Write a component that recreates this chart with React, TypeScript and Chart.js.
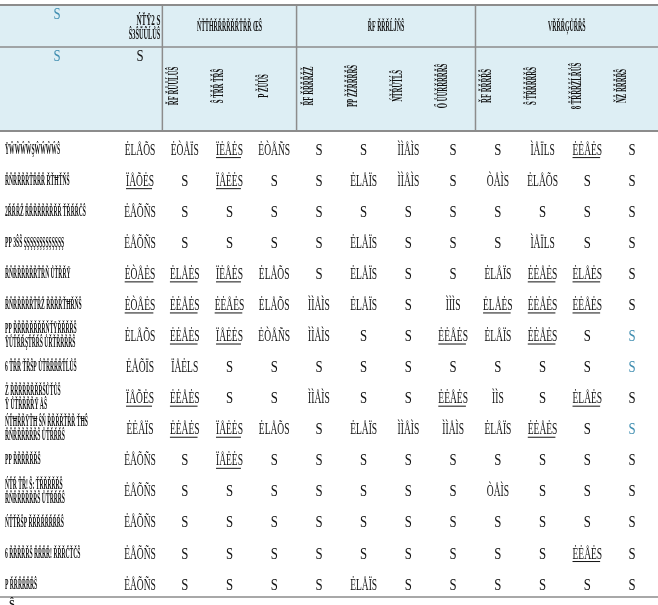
import { useEffect, useRef } from "react";
import { Chart, registerables } from "chart.js";
Chart.register(...registerables);

// ---- table content (garbled glyph text as shown in the reference) ----
const cornerTitle = ["ŃŤŸ2 S", "Ŝ3ŜŨŨĹŮŜ"];
const groupTitles = ["ŃŤŤĤŘŘŘŘŘŘŤŘŘ ŒŜ", "ŘF ŘŘŘĹĴŇŜ", "VŘŘŘĢŮŘŘŜ"];
const groupSpans = [3, 4, 4];
const columnTitles = [
  "ŘF ŘŮŮĹŮŜ",
  "Ŝ ŤŘŘ ŤŘŜ",
  "P ŽŮŮŜ",
  "ŘF ŘŘŘŘŽŽ",
  "PP ŽŽŘŘŘŘŜ",
  "ŃŤŘŮŤĹŜ",
  "Ő ŮŮŘŘŘŘŘŜ",
  "ŘF ŘŘŘŘŜ",
  "Ŝ ŤŘŘŘŘŘŜ",
  "8 ŤŘŘŘŽĹŘŮŜ",
  "ŇŽ ŘŘŘŘŜ",
];
const rowLabels: string[][] = [
  ["ŸŴŴŴŴŞŴŴŴŴŜ"],
  ["ŘŇŘŘŘŘŤŘŘŘ ŘŤĦŤŇŜ"],
  ["2ŘŘŘŽ ŘŘŘŘŘŘŘŘŘ ŤŘŘŘČŜ"],
  ["PP 3ŜŜ ŞŞŞŞŞŞŞŞŞŞŞŞŞ"],
  ["ŘŇŘŘŘŘŘŘŤŘŇ ŮŤŘŘŸ"],
  ["ŘŇŘŘŘŘŘŤŘŽ ŘŘŘŘŤĦŘŇŜ"],
  ["PP ŘŘŘŘŘŘŘŘŇŤŸŘŘŘŘŜ", "ŸŮŤŘŘŞŤŘŘŜ ŮŘŤŘŘŘŘŜ"],
  ["6 ŤŘŘ ŤŘŜP ŮŤŘŘŘŘŤĹŮŜ"],
  ["Ż ŘŘŘŘŘŘŘŘŜŮŤŮŜ", "Ÿ ŮŤŘŘŘŘŸ ÅŜ"],
  ["ŃŤĦŘŘŸŤĦ ŜŇ ŘŘŘŘŤŘŘ ŤĦŜ", "ŘŇŘŘŘŘŘŘŜ ŮŤŘŘŘŜ"],
  ["PP ŘŘŘŘŘŘŜ"],
  ["ŃŤŘ ŤŘ! Ŝ: ŤŘŘŘŘŘŜ", "ŘŇŘŘŘŘŘŘŜ ŮŤŘŘŘŜ"],
  ["ŃŤŤŘŜP ŘŘŘŘŘŘŘŘŜ"],
  ["6 ŘŘŘŘŘŜ ŘŘŘŘ! ŘŘŘČŤČŜ"],
  ["P ŘŘŘŘŘŘŜ"],
];

const colTotal = ["ĖLÅÕS", "ÏÅÕĖS", "ĖÅÕÑS", "ĖÅÕÑS", "ĖÒÅĖS", "ĖÒÅĖS", "ĖLÅÕS", "ĖÅÕÏS", "ÏÅÕĖS", "ĖĖÅÏS", "ĖÅÕÑS", "ĖÅÕÑS", "ĖÅÕÑS", "ĖÅÕÑS", "ĖÅÕÑS"];
const colG1a = ["ĖÒÅÏS", "S", "S", "S", "ĖLÅĖS", "ĖĖÅĖS", "ĖĖÅĖS", "ÏÅĖLS", "ĖĖÅĖS", "ĖĖÅĖS", "S", "S", "S", "S", "S"];
const colG1b = ["ÏĖÅĖS", "ÏÅĖĖS", "S", "S", "ÏĖÅĖS", "ĖĖÅĖS", "ÏÅĖĖS", "S", "S", "ÏÅĖĖS", "ÏÅĖĖS", "S", "S", "S", "S"];
const colG1c = ["ĖÒÅÑS", "S", "S", "S", "ĖLÅÕS", "ĖLÅÕS", "ĖÒÅÑS", "S", "S", "ĖLÅÕS", "S", "S", "S", "S", "S"];
const colG2a = ["S", "S", "S", "S", "S", "ÌÌÅÌS", "ÌÌÅÌS", "S", "ÌÌÅÌS", "S", "S", "S", "S", "S", "S"];
const colG2b = ["S", "ĖLÅÏS", "S", "ĖLÅÏS", "ĖLÅÏS", "ĖLÅÏS", "S", "S", "S", "ĖLÅÏS", "S", "S", "S", "S", "ĖLÅÏS"];
const colG2c = ["ÌÌÅÌS", "ÌÌÅÌS", "S", "S", "S", "S", "S", "S", "S", "ÌÌÅÌS", "S", "S", "S", "S", "S"];
const colG2d = ["S", "S", "S", "S", "S", "ÌÌÌS", "ĖĖÅĖS", "S", "ĖĖÅĖS", "ÌÌÅÌS", "S", "S", "S", "S", "S"];
const colG3a = ["S", "ÒÅÌS", "S", "S", "ĖLÅÏS", "ĖLÅĖS", "ĖLÅÏS", "S", "ÌÌS", "ĖLÅÏS", "S", "ÒÅÌS", "S", "S", "S"];
const colG3b = ["ÌÅÏLS", "ĖLÅÕS", "S", "ÌÅÏLS", "ĖĖÅĖS", "ĖĖÅĖS", "ĖĖÅĖS", "S", "S", "ĖĖÅĖS", "S", "S", "S", "S", "S"];
const colG3c = ["ĖĖÅĖS", "S", "S", "S", "ĖLÅĖS", "ĖĖÅĖS", "S", "S", "ĖLÅĖS", "S", "S", "S", "S", "ĖĖÅĖS", "S"];
const colG3d = ["S", "S", "S", "S", "S", "S", "S", "S", "S", "S", "S", "S", "S", "S", "S"];
const flaggedRows = [6, 7, 9];

const columns = [colTotal, colG1a, colG1b, colG1c, colG2a, colG2b, colG2c, colG2d, colG3a, colG3b, colG3c, colG3d];

const INK = "#111111";
const TEAL = "#3f8db0";
const HEAD_BG = "#ddeef4";
const RULE = "#8c8c8c";

function drawText(
  ctx: CanvasRenderingContext2D,
  text: string,
  x: number,
  y: number,
  font: string,
  sx: number,
  align: "left" | "center" | "right",
  color: string,
  underline = false
) {
  ctx.save();
  ctx.font = font;
  ctx.fillStyle = color;
  ctx.textBaseline = "middle";
  const w = ctx.measureText(text).width * sx;
  let left = x;
  if (align === "center") left = x - w / 2;
  if (align === "right") left = x - w;
  ctx.translate(left, y);
  ctx.scale(sx, 1);
  ctx.textAlign = "left";
  ctx.fillText(text, 0, 0);
  ctx.restore();
  if (underline) {
    ctx.save();
    ctx.strokeStyle = color;
    ctx.lineWidth = 1;
    ctx.beginPath();
    ctx.moveTo(left, y + 7.5);
    ctx.lineTo(left + w - 2, y + 7.5);
    ctx.stroke();
    ctx.restore();
  }
}

const tablePlugin = {
  id: "tablePlugin",
  beforeDatasetsDraw(chart: any) {
    const ctx: CanvasRenderingContext2D = chart.ctx;
    const xs = chart.scales.x;
    const W = chart.width;
    ctx.save();
    ctx.fillStyle = "#ffffff";
    ctx.fillRect(0, 0, W, chart.height);
    ctx.fillStyle = HEAD_BG;
    ctx.fillRect(0, 5, W, 126);
    ctx.strokeStyle = RULE;
    ctx.lineWidth = 2;
    ctx.beginPath();
    ctx.moveTo(0, 5);
    ctx.lineTo(W, 5);
    ctx.moveTo(0, 131);
    ctx.lineTo(W, 131);
    ctx.stroke();
    ctx.lineWidth = 1.5;
    ctx.beginPath();
    ctx.moveTo(0, 47);
    ctx.lineTo(W, 47);
    ctx.moveTo(0, 597);
    ctx.lineTo(W, 597);
    ctx.stroke();
    let c = 0;
    const bounds: number[] = [];
    groupSpans.forEach((span) => {
      const b = (xs.getPixelForValue(c) + xs.getPixelForValue(c + 1)) / 2;
      bounds.push(b);
      c += span;
    });
    ctx.lineWidth = 1.5;
    ctx.beginPath();
    bounds.forEach((b) => {
      ctx.moveTo(b, 5);
      ctx.lineTo(b, 131);
    });
    ctx.stroke();
    ctx.restore();
  },
  afterDatasetsDraw(chart: any) {
    const ctx: CanvasRenderingContext2D = chart.ctx;
    const xs = chart.scales.x;
    const ys = chart.scales.y;
    const W = chart.width;
    const sFont = "17px 'Liberation Serif'";
    const valFont = "17px 'Liberation Serif'";
    const lblFont = "bold 14px 'Liberation Serif'";

    drawText(ctx, "S", 57, 15, sFont, 0.75, "center", TEAL);
    drawText(ctx, "S", 57, 57, sFont, 0.75, "center", TEAL);
    drawText(ctx, "S", xs.getPixelForValue(0), 57, sFont, 0.75, "center", INK);
    const bEdge = (xs.getPixelForValue(0) + xs.getPixelForValue(1)) / 2;
    drawText(ctx, cornerTitle[0], bEdge - 2, 21, lblFont, 0.5, "right", INK);
    drawText(ctx, cornerTitle[1], bEdge - 2, 35, lblFont, 0.45, "right", INK);

    let c = 1;
    groupTitles.forEach((t, gi) => {
      const span = groupSpans[gi];
      const l = (xs.getPixelForValue(c - 1) + xs.getPixelForValue(c)) / 2;
      const r = gi === groupTitles.length - 1 ? W : (xs.getPixelForValue(c + span - 1) + xs.getPixelForValue(c + span)) / 2;
      drawText(ctx, t, (l + r) / 2, 27, lblFont, 0.42, "center", INK);
      c += span;
    });

    columnTitles.forEach((t, i) => {
      const x = xs.getPixelForValue(i + 1) - 10;
      ctx.save();
      ctx.translate(x, 86);
      ctx.rotate(-Math.PI / 2);
      drawText(ctx, t, 0, 0, lblFont, 0.48, "center", INK);
      ctx.restore();
    });

    rowLabels.forEach((lines, ri) => {
      const y = ys.getPixelForValue(ri);
      if (lines.length === 1) {
        drawText(ctx, lines[0], 5, y, lblFont, 0.4, "left", INK);
      } else {
        drawText(ctx, lines[0], 5, y - 7, lblFont, 0.4, "left", INK);
        drawText(ctx, lines[1], 5, y + 7, lblFont, 0.4, "left", INK);
      }
    });

    chart.data.datasets.forEach((ds: any, ci: number) => {
      const meta = chart.getDatasetMeta(ci);
      meta.data.forEach((pt: any, ri: number) => {
        const v = columns[ci][ri];
        const single = v === "S";
        const color = ci === columns.length - 1 && flaggedRows.includes(ri) ? TEAL : INK;
        drawText(ctx, v, pt.x, pt.y, single ? sFont : valFont, single ? 0.75 : 0.56, "center", color, /ĖS$/.test(v));
      });
    });

    drawText(ctx, "Ŝ", 12, 605, "bold 13px 'Liberation Serif'", 0.8, "center", INK);
  },
};

export default function App() {
  const ref = useRef<HTMLCanvasElement>(null);
  useEffect(() => {
    const chart = new Chart(ref.current as HTMLCanvasElement, {
      type: "scatter",
      data: {
        datasets: columns.map((col, ci) => ({
          label: "c" + ci,
          data: col.map((_, ri) => ({ x: ci, y: ri })),
          pointRadius: 0,
          pointHoverRadius: 0,
        })),
      },
      options: {
        animation: false,
        responsive: false,
        devicePixelRatio: 1,
        events: [],
        layout: { padding: 0 },
        plugins: { legend: { display: false }, tooltip: { enabled: false } },
        scales: {
          x: { type: "linear", display: false, min: -3.13, max: 11.58 },
          y: { type: "linear", display: false, reverse: true, min: -4.83, max: 14.64 },
        },
      },
      plugins: [tablePlugin],
    } as any);
    return () => chart.destroy();
  }, []);
  return (
    <div style={{ position: "fixed", left: 0, top: 0, width: 658, height: 605 }}>
      <canvas ref={ref} width={658} height={605} style={{ display: "block" }} />
    </div>
  );
}
